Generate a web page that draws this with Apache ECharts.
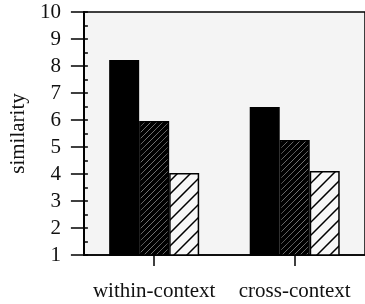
<!DOCTYPE html>
<html>
<head>
<meta charset="utf-8">
<script src="https://cdn.jsdelivr.net/npm/echarts@6/dist/echarts.min.js"></script>
<style>
    html, body {margin: 0; padding: 0; background: #fff;}
    #chart {width: 365px; height: 304px;}
</style>
</head>
<body>
<div id="chart"></div>
<script>
// data
var categories = ['within-context', 'cross-context'];
var solidValues = [8.22, 6.48];
var denseValues = [5.96, 5.26];
var lightValues = [4.04, 4.11];

// diagonal hatch fill as a canvas pattern ("/" lines every step px)
function makeHatch(size, step, lineWidth, bg) {
    var c = document.createElement('canvas');
    c.width = size;
    c.height = size;
    var ctx = c.getContext('2d');
    ctx.fillStyle = bg;
    ctx.fillRect(0, 0, size, size);
    ctx.strokeStyle = '#000';
    ctx.lineWidth = lineWidth;
    ctx.beginPath();
    for (var k = -size; k <= size; k += step) {
        ctx.moveTo(k - 2, size + 2);
        ctx.lineTo(k + size + 2, -2);
    }
    ctx.stroke();
    return c;
}

var serif = '"Liberation Serif", "DejaVu Serif", serif';
var myChart = echarts.init(document.getElementById('chart'));

var option = {
    animation: false,
    backgroundColor: '#fff',
    grid: {
        left: 80,
        top: 12,
        bottom: 49,
        right: -5,
        show: true,
        backgroundColor: '#f4f4f4',
        borderColor: '#000',
        borderWidth: 1.5
    },
    xAxis: {
        type: 'category',
        data: categories,
        boundaryGap: true,
        axisLine: {show: true, lineStyle: {color: '#000', width: 1.5}},
        axisTick: {show: true, interval: 0, alignWithLabel: true, length: 11, lineStyle: {color: '#000', width: 1.5}},
        axisLabel: {interval: 0, hideOverlap: false, margin: 26, color: '#111', fontFamily: serif, fontSize: 21},
        splitLine: {show: false}
    },
    yAxis: [{
        type: 'value',
        min: 1,
        max: 10,
        interval: 1,
        name: 'similarity',
        nameLocation: 'middle',
        nameGap: 50,
        nameTextStyle: {color: '#111', fontFamily: serif, fontSize: 21},
        axisLine: {show: true, lineStyle: {color: '#000', width: 2}},
        axisTick: {show: true, length: 13, lineStyle: {color: '#000', width: 1.5}},
        axisLabel: {margin: 23, color: '#111', fontFamily: serif, fontSize: 21},
        splitLine: {show: false}
    }, {
        // inward short ticks every half unit
        type: 'value',
        position: 'left',
        min: 1,
        max: 10,
        interval: 0.5,
        axisLine: {show: false},
        axisTick: {show: true, inside: true, length: 4, lineStyle: {color: '#000', width: 1.5}},
        axisLabel: {show: false},
        splitLine: {show: false}
    }],
    series: [{
        type: 'bar',
        data: solidValues,
        barWidth: 30,
        barGap: '0%',
        itemStyle: {color: '#000', borderColor: '#000', borderWidth: 1.5}
    }, {
        type: 'bar',
        data: denseValues,
        barWidth: 30,
        barGap: '0%',
        itemStyle: {
            color: {image: makeHatch(30, 6, 4, '#fff'), repeat: 'repeat'},
            borderColor: '#000',
            borderWidth: 1.5
        }
    }, {
        type: 'bar',
        data: lightValues,
        barWidth: 30,
        barGap: '0%',
        itemStyle: {
            color: {image: makeHatch(39, 13, 1.5, '#f7f7f7'), repeat: 'repeat'},
            borderColor: '#000',
            borderWidth: 1.5
        }
    }]
};
myChart.setOption(option);
</script>
</body>
</html>
